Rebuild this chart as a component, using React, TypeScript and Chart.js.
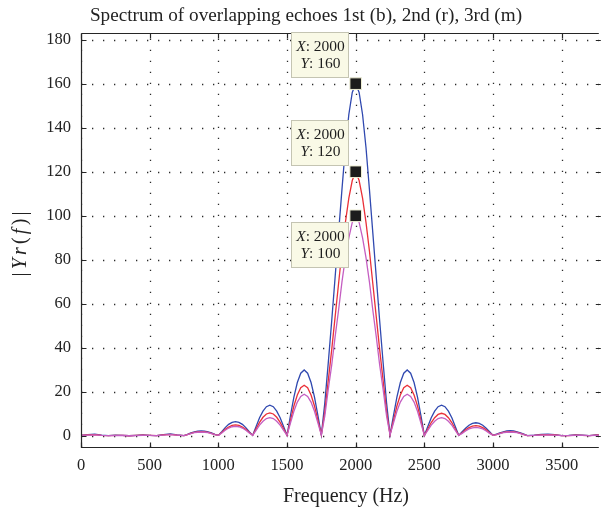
import { useEffect, useRef } from "react";
import { Chart, registerables } from "chart.js";

Chart.register(...registerables);

const FONT = '"Liberation Serif", "Times New Roman", serif';

const titleText = "Spectrum of overlapping echoes 1st (b), 2nd (r), 3rd (m)";
const xAxisTitle = "Frequency (Hz)";

const xTicks = [0, 500, 1000, 1500, 2000, 2500, 3000, 3500];
const yTicks = [0, 20, 40, 60, 80, 100, 120, 140, 160, 180];

const freqHz = [
  0, 50, 100, 150, 200, 250, 300, 350, 400, 450, 500, 550, 600, 650, 700,
  750, 775, 800, 825, 850, 875, 900, 925, 950, 975,
  1000, 1025, 1050, 1075, 1100, 1125, 1150, 1175, 1200, 1225,
  1250, 1275, 1300, 1325, 1350, 1375, 1400, 1425, 1450, 1475,
  1500, 1525, 1550, 1575, 1600, 1625, 1650, 1675, 1700, 1725,
  1750, 1775, 1800, 1825, 1850, 1875, 1900, 1925, 1950, 1975,
  2000, 2025, 2050, 2075, 2100, 2125, 2150, 2175, 2200, 2225,
  2250, 2275, 2300, 2325, 2350, 2375, 2400, 2425, 2450, 2475,
  2500, 2525, 2550, 2575, 2600, 2625, 2650, 2675, 2700, 2725,
  2750, 2775, 2800, 2825, 2850, 2875, 2900, 2925, 2950, 2975,
  3000, 3025, 3050, 3075, 3100, 3125, 3150, 3175, 3200, 3225,
  3250,
  3300, 3350, 3400, 3450, 3500, 3550, 3600, 3650, 3700, 3750, 3800,
];

// 1st echo (blue)
const echo1st = [
  0.3, 0.6, 0.8, 0.4, 0.2, 0.4, 0.3, 0.1, 0.3, 0.5, 0.3, 0.2, 0.6, 0.9, 0.5,
  0.2, 0.7, 1.4, 1.9, 2.2, 2.3, 2.2, 1.9, 1.4, 0.7,
  0.3, 2.0, 3.8, 5.3, 6.2, 6.5, 6.2, 5.3, 3.8, 2.0,
  0.3, 4.3, 8.3, 11.3, 13.3, 14, 13.3, 11.3, 8.3, 4.3,
  0.3, 9.3, 17.7, 24.3, 28.5, 30, 28.5, 24.3, 17.7, 9.3,
  0.5, 15, 33, 52, 72, 92, 112, 131, 146, 156,
  160, 156, 146, 131, 112, 92, 72, 52, 33, 15,
  0.5, 9.3, 17.7, 24.3, 28.5, 30, 28.5, 24.3, 17.7, 9.3,
  0.3, 4.3, 8.3, 11.3, 13.3, 14, 13.3, 11.3, 8.3, 4.3,
  0.3, 1.9, 3.5, 4.9, 5.7, 6, 5.7, 4.9, 3.5, 1.9,
  0.3, 0.8, 1.4, 1.9, 2.3, 2.4, 2.3, 1.9, 1.4, 0.8,
  0.2,
  0.4, 0.7, 0.8, 0.6, 0.2, 0.3, 0.5, 0.4, 0.2, 0.5, 0.6,
];

// 2nd echo (red)
const echo2nd = [
  0.3, 0.5, 0.6, 0.3, 0.2, 0.3, 0.3, 0.1, 0.3, 0.4, 0.3, 0.2, 0.5, 0.7, 0.4,
  0.2, 0.6, 1.2, 1.6, 1.9, 2, 1.9, 1.6, 1.2, 0.6,
  0.3, 1.6, 3.0, 4.0, 4.8, 5, 4.8, 4.0, 3.0, 1.6,
  0.3, 3.3, 6.2, 8.5, 10, 10.5, 10, 8.5, 6.2, 3.3,
  0.3, 7.1, 13.6, 18.6, 21.9, 23, 21.9, 18.6, 13.6, 7.1,
  0.5, 11, 25, 39, 54, 69, 84, 97, 108, 116,
  120, 116, 108, 97, 84, 69, 54, 39, 25, 11,
  0.5, 7.1, 13.6, 18.6, 21.9, 23, 21.9, 18.6, 13.6, 7.1,
  0.3, 3.2, 6.1, 8.3, 9.8, 10.3, 9.8, 8.3, 6.1, 3.2,
  0.3, 1.5, 2.8, 3.8, 4.5, 4.7, 4.5, 3.8, 2.8, 1.5,
  0.3, 0.6, 1.2, 1.6, 1.9, 2, 1.9, 1.6, 1.2, 0.6,
  0.2,
  0.3, 0.5, 0.6, 0.5, 0.2, 0.2, 0.4, 0.3, 0.2, 0.4, 0.5,
];

// 3rd echo (magenta)
const echo3rd = [
  0.3, 0.4, 0.5, 0.3, 0.2, 0.2, 0.3, 0.1, 0.2, 0.3, 0.3, 0.2, 0.4, 0.6, 0.4,
  0.2, 0.6, 1.1, 1.5, 1.7, 1.8, 1.7, 1.5, 1.1, 0.6,
  0.3, 1.4, 2.6, 3.6, 4.2, 4.4, 4.2, 3.6, 2.6, 1.4,
  0.3, 2.6, 4.9, 6.7, 7.9, 8.3, 7.9, 6.7, 4.9, 2.6,
  0.3, 5.9, 11.2, 15.4, 18, 19, 18, 15.4, 11.2, 5.9,
  0.5, 9, 21, 32, 45, 57, 70, 81, 90, 97,
  100, 97, 90, 81, 70, 57, 45, 32, 21, 9,
  0.5, 5.9, 11.2, 15.4, 18, 19, 18, 15.4, 11.2, 5.9,
  0.3, 2.6, 4.9, 6.7, 7.9, 8.3, 7.9, 6.7, 4.9, 2.6,
  0.3, 1.2, 2.3, 3.2, 3.7, 3.9, 3.7, 3.2, 2.3, 1.2,
  0.3, 0.6, 1.1, 1.5, 1.7, 1.8, 1.7, 1.5, 1.1, 0.6,
  0.2,
  0.3, 0.4, 0.5, 0.4, 0.2, 0.2, 0.3, 0.3, 0.2, 0.3, 0.4,
];

// data tips
const tipFreq = [2000, 2000, 2000];
const tipValues = [160, 120, 100];
const tipBelow = [false, false, true];

const W = 608;
const H = 513;

type Run = [string, boolean];

function drawRuns(
  ctx: CanvasRenderingContext2D,
  runs: Run[],
  cx: number,
  y: number,
  size: number,
  gap = 0
) {
  const widths = runs.map(([t, it]) => {
    ctx.font = `${it ? "italic " : ""}${size}px ${FONT}`;
    return ctx.measureText(t).width;
  });
  const total = widths.reduce((s, w) => s + w, 0) + gap * (runs.length - 1);
  let x = cx - total / 2;
  ctx.textAlign = "left";
  runs.forEach(([t, it], i) => {
    ctx.font = `${it ? "italic " : ""}${size}px ${FONT}`;
    ctx.fillText(t, x, y);
    x += widths[i] + gap;
  });
}

export default function App() {
  const ref = useRef<HTMLCanvasElement>(null);

  useEffect(() => {
    document.body.style.margin = "0";
    const canvas = ref.current!;
    const pts = (ys: number[]) => freqHz.map((f, i) => ({ x: f, y: ys[i] }));

    const framePlugin = {
      id: "frame",
      beforeDatasetsDraw(chart: any) {
        const { ctx, chartArea: a, scales } = chart;
        const xs = scales.x;
        const ys = scales.y;
        ctx.save();
        ctx.beginPath();
        ctx.rect(a.left, a.top, a.right - a.left, a.bottom - a.top);
        ctx.clip();
        ctx.strokeStyle = "#2a2a2a";
        ctx.lineWidth = 1.3;
        ctx.setLineDash([1.3, 9.7]);
        for (const t of xTicks) {
          const px = Math.round(xs.getPixelForValue(t)) + 0.5;
          ctx.beginPath();
          ctx.moveTo(px, a.bottom);
          ctx.lineTo(px, a.top);
          ctx.stroke();
        }
        for (const t of yTicks) {
          const py = Math.round(ys.getPixelForValue(t)) + 0.5;
          ctx.beginPath();
          ctx.moveTo(a.left, py);
          ctx.lineTo(a.right, py);
          ctx.stroke();
        }
        ctx.restore();
      },
      afterDatasetsDraw(chart: any) {
        const { ctx, chartArea: a, scales } = chart;
        const xs = scales.x;
        const ys = scales.y;
        ctx.save();
        ctx.strokeStyle = "#262626";
        ctx.lineWidth = 1.2;
        ctx.setLineDash([]);
        const L = Math.round(a.left) + 0.5;
        const B = Math.round(a.bottom) + 0.5;
        const T = Math.round(a.top) + 0.5;
        ctx.beginPath();
        ctx.moveTo(L, T);
        ctx.lineTo(L, B);
        ctx.lineTo(a.right, B);
        ctx.moveTo(L, T);
        ctx.lineTo(a.right, T);
        ctx.stroke();
        const tl = 5;
        ctx.beginPath();
        for (const t of xTicks) {
          const px = Math.round(xs.getPixelForValue(t)) + 0.5;
          ctx.moveTo(px, B);
          ctx.lineTo(px, B - tl);
          ctx.moveTo(px, T);
          ctx.lineTo(px, T + tl);
        }
        for (const t of yTicks) {
          const py = Math.round(ys.getPixelForValue(t)) + 0.5;
          ctx.moveTo(L, py);
          ctx.lineTo(L + tl, py);
          ctx.moveTo(a.right + 2, py);
          ctx.lineTo(a.right + 2 - tl, py);
        }
        ctx.stroke();
        ctx.restore();
      },
      afterDraw(chart: any) {
        const { ctx, chartArea: a, scales } = chart;
        const xs = scales.x;
        const ys = scales.y;
        ctx.save();
        ctx.fillStyle = "#222";
        ctx.textBaseline = "alphabetic";
        // title
        ctx.font = `19.2px ${FONT}`;
        ctx.textAlign = "center";
        ctx.fillText(titleText, 306, 21);
        // x title
        ctx.font = `20px ${FONT}`;
        ctx.fillText(xAxisTitle, 346, 502);
        // y title
        ctx.save();
        ctx.translate(26, (a.top + a.bottom) / 2 + 4);
        ctx.rotate(-Math.PI / 2);
        drawRuns(
          ctx,
          [["|", false], ["Y", true], ["r", true], ["(", false], ["f", true], [")", false], ["|", false]],
          0,
          0,
          20,
          3.2
        );
        ctx.restore();

        // data tips
        const bw = 57;
        const bh = 45;
        tipValues.forEach((v, i) => {
          const px = xs.getPixelForValue(tipFreq[i]);
          const py = ys.getPixelForValue(v);
          const right = Math.round(px - 8);
          const left = right - bw;
          const top = tipBelow[i] ? Math.round(py + 6) : Math.round(py - 7 - bh);
          ctx.fillStyle = "#f9f9e6";
          ctx.fillRect(left + 0.5, top + 0.5, bw, bh);
          ctx.strokeStyle = "#c4c4b2";
          ctx.lineWidth = 1;
          ctx.strokeRect(left + 0.5, top + 0.5, bw, bh);
          ctx.fillStyle = "#1e1e1e";
          const cx = left + bw / 2 + 1;
          drawRuns(ctx, [["X", true], [": " + tipFreq[i], false]], cx, top + 19, 15.5);
          drawRuns(ctx, [["Y", true], [": " + v, false]], cx, top + 36, 15.5);
        });
        ctx.restore();
      },
    };

    const chart = new Chart(canvas, {
      type: "line",
      data: {
        datasets: [
          {
            type: "scatter",
            label: "tips",
            data: tipValues.map((v, i) => ({ x: tipFreq[i], y: v })),
            pointStyle: "rect",
            pointRadius: 8.2,
            backgroundColor: "#1c1c1c",
            borderColor: "#efefd4",
            borderWidth: 1,
            showLine: false,
          } as any,
          {
            label: "3rd (m)",
            data: pts(echo3rd),
            borderColor: "#c45ec2",
            borderWidth: 1.3,
            pointRadius: 0,
            tension: 0,
          },
          {
            label: "2nd (r)",
            data: pts(echo2nd),
            borderColor: "#ea3038",
            borderWidth: 1.3,
            pointRadius: 0,
            tension: 0,
          },
          {
            label: "1st (b)",
            data: pts(echo1st),
            borderColor: "#3049b0",
            borderWidth: 1.3,
            pointRadius: 0,
            tension: 0,
          },
        ],
      },
      options: {
        responsive: false,
        animation: false,
        events: [],
        layout: { padding: { top: 33, right: 0, left: 0, bottom: 0 } },
        plugins: { legend: { display: false }, tooltip: { enabled: false }, title: { display: false } },
        scales: {
          x: {
            type: "linear",
            min: 0,
            max: 3770,
            grid: { display: false, drawTicks: false },
            border: { display: false },
            afterFit: (s: any) => {
              s.height = H - 447;
            },
            afterBuildTicks: (s: any) => {
              s.ticks = xTicks.map((v) => ({ value: v }));
            },
            ticks: {
              color: "#222",
              padding: 9,
              maxRotation: 0,
              autoSkip: false,
              font: { family: FONT, size: 16.5 },
              callback: (v: any) => String(v),
            },
          },
          y: {
            type: "linear",
            min: -5,
            max: 183,
            grid: { display: false, drawTicks: false },
            border: { display: false },
            afterFit: (s: any) => {
              s.width = 81;
            },
            afterBuildTicks: (s: any) => {
              s.ticks = yTicks.map((v) => ({ value: v }));
            },
            ticks: {
              color: "#222",
              padding: 10,
              autoSkip: false,
              font: { family: FONT, size: 16.5 },
              callback: (v: any) => String(v),
            },
          },
        },
      },
      plugins: [framePlugin],
    } as any);

    return () => chart.destroy();
  }, []);

  return (
    <div style={{ width: W, height: H, overflow: "hidden", background: "#fff" }}>
      <canvas ref={ref} width={W} height={H} style={{ display: "block", width: W, height: H }} />
    </div>
  );
}
